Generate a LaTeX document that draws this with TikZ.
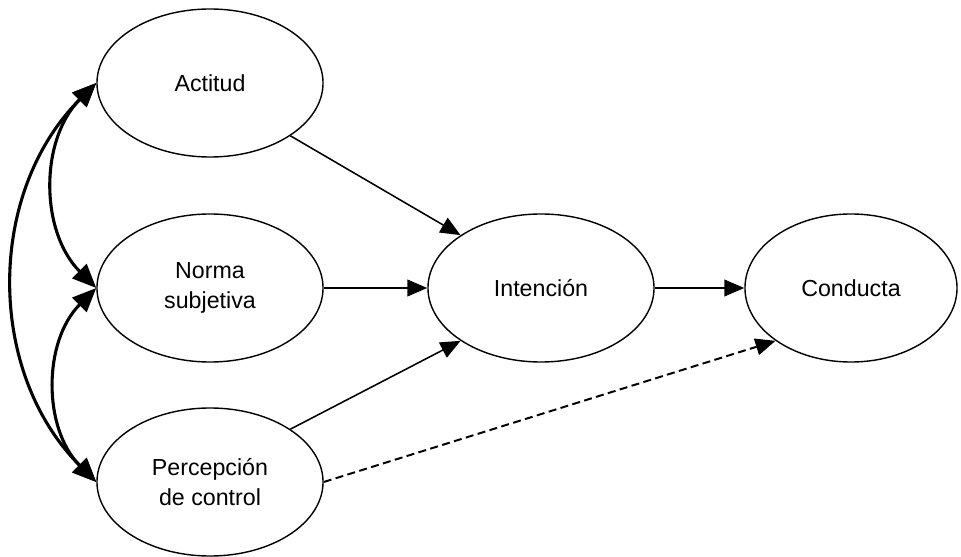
\documentclass[tikz,border=0pt]{standalone}
\usepackage{fontspec}
\setmainfont{Liberation Sans}
\usetikzlibrary{arrows.meta,shapes.geometric}

\begin{document}
\begin{tikzpicture}[
  x=0.025cm,
  y=-0.025cm,
  font=\fontsize{16.5}{21}\selectfont,
  >={Triangle[length=0.5cm,width=0.42cm]},
  construct/.style={
    ellipse,
    draw,
    line width=1pt,
    minimum width=5.65cm,
    minimum height=3.7cm,
    inner sep=0pt,
    align=center
  },
  arrow/.style={->,line width=1.1pt},
  direct/.style={arrow,line width=1.4pt,dash pattern=on 0.2cm off 0.11cm},
  corr/.style={
    {Triangle[length=0.6cm,width=0.5cm]}-{Triangle[length=0.6cm,width=0.5cm]},
    line width=2.2pt
  }
]
\useasboundingbox (0,0) rectangle (961,557);

\node[construct] (actitud) at (210,83) {Actitud};
\node[construct] (norma) at (210,288) {Norma\\subjetiva};
\node[construct] (percepcion) at (210,482) {Percepción\\de control};
\node[construct] (intencion) at (541,288) {Intención};
\node[construct,minimum width=5.3cm] (conducta) at (851,288) {Conducta};

\draw[arrow] (actitud.south east) -- (intencion.north west);
\draw[arrow] (norma) -- (intencion);
\draw[arrow] (percepcion.north east) -- (intencion.south west);
\draw[arrow] (intencion) -- (conducta);
\draw[direct] (percepcion.east) -- (conducta.south west);

\draw[corr] (actitud.west) to[out=225,in=135] (norma.west);
\draw[corr] (norma.west) to[out=225,in=135] (percepcion.west);
\draw[corr] (actitud.west) to[out=225,in=135] (percepcion.west);
\end{tikzpicture}
\end{document}
